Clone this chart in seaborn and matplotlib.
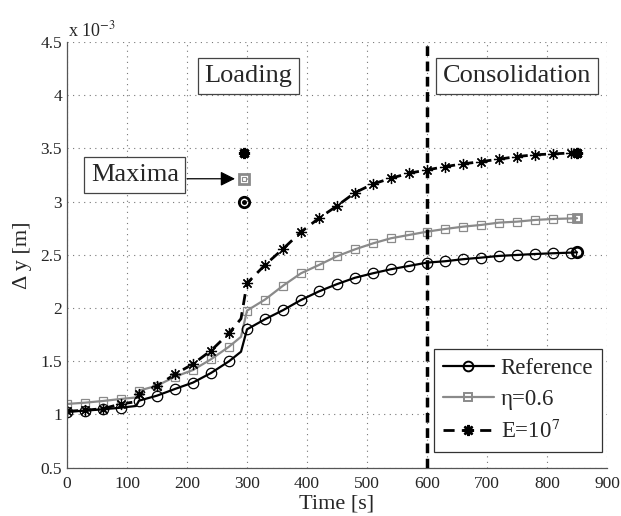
import numpy as np
import matplotlib
matplotlib.use("Agg")
import matplotlib.pyplot as plt
import seaborn as sns
from matplotlib.lines import Line2D

# time axis [s] (extra points at 115 and 290 are the kinks of the curves)
time = [0, 30, 60, 90, 115, 120, 150, 180, 210, 240, 270, 290, 300, 330, 360, 390, 420,
        450, 480, 510, 540, 570, 600, 630, 660, 690, 720, 750, 780, 810, 840, 850]

# displacement in units of 1e-3 m
reference = [1.026, 1.036, 1.049, 1.064, 1.08, 1.13, 1.177, 1.24, 1.30, 1.39, 1.50, 1.59,
             1.80, 1.895, 1.98, 2.076, 2.157, 2.225, 2.285, 2.327, 2.365, 2.396, 2.427,
             2.44, 2.459, 2.474, 2.49, 2.499, 2.508, 2.515, 2.521, 2.524]
eta_06 = [1.099, 1.111, 1.127, 1.146, 1.16, 1.224, 1.271, 1.355, 1.418, 1.519, 1.637, 1.73,
          1.976, 2.08, 2.21, 2.327, 2.405, 2.487, 2.552, 2.608, 2.656, 2.687, 2.718,
          2.743, 2.765, 2.781, 2.803, 2.812, 2.828, 2.837, 2.842, 2.844]
e_1e7 = [1.03, 1.04, 1.055, 1.099, 1.12, 1.19, 1.27, 1.378, 1.475, 1.60, 1.763, 1.90,
         2.233, 2.405, 2.556, 2.715, 2.845, 2.96, 3.085, 3.166, 3.22, 3.267, 3.298,
         3.329, 3.355, 3.376, 3.399, 3.424, 3.44, 3.449, 3.457, 3.46]

# maxima markers
max_time = 295
max_ref, max_eta, max_e = 2.994, 3.21, 3.455

x_ticks = [0, 100, 200, 300, 400, 500, 600, 700, 800, 900]
y_ticks = [0.5, 1, 1.5, 2, 2.5, 3, 3.5, 4, 4.5]

sns.set_style("white")
plt.rcParams["font.family"] = ["Liberation Serif", "DejaVu Serif"]
plt.rcParams["mathtext.fontset"] = "stix"

GRAY = "#8a8a8a"
star = (8, 2, 0)

fig = plt.figure(figsize=(6.21, 5.16), dpi=100)
ax = fig.add_axes([0.1079, 0.0936, 0.8696, 0.825])

mark_idx = [i for i, t in enumerate(time) if t % 30 == 0 or t == 850]
mt = [time[i] for i in mark_idx]

# lines
sns.lineplot(x=time, y=reference, ax=ax, color="k", lw=1.6, estimator=None, sort=False)
sns.lineplot(x=time, y=eta_06, ax=ax, color=GRAY, lw=1.6, estimator=None, sort=False)
sns.lineplot(x=time, y=e_1e7, ax=ax, color="k", lw=2.0, estimator=None, sort=False,
             linestyle=(0, (4, 2.6)))

# markers
ax.plot(mt, [reference[i] for i in mark_idx], ls="none", marker="o", ms=7.5,
        mfc="none", mec="k", mew=0.9)
ax.plot(mt, [eta_06[i] for i in mark_idx], ls="none", marker="s", ms=6,
        mfc="none", mec=GRAY, mew=0.9)
ax.plot(mt, [e_1e7[i] for i in mark_idx], ls="none", marker=star, ms=8,
        mec="k", mew=0.9)
# bold last markers
ax.plot([850], [reference[-1]], ls="none", marker="o", ms=7.5, mfc="none", mec="k", mew=2)
ax.plot([850], [eta_06[-1]], ls="none", marker="s", ms=6, mfc="none", mec=GRAY, mew=2)
ax.plot([850], [e_1e7[-1]], ls="none", marker=star, ms=8, mec="k", mew=2.2)

# maxima
ax.plot([max_time], [max_ref], marker="o", ms=7.5, mfc="none", mec="k", mew=2)
ax.plot([max_time], [max_ref], marker="o", ms=2.5, mfc="k", mec="k")
ax.plot([max_time], [max_eta], marker="s", ms=7, mfc="none", mec=GRAY, mew=2)
ax.plot([max_time], [max_eta], marker="s", ms=2.5, mfc="none", mec=GRAY, mew=0.8)
ax.plot([max_time], [max_e], marker=star, ms=8, mec="k", mew=2.2)

# loading/consolidation boundary
ax.axvline(600, color="k", lw=2.5, ls=(0, (2.8, 1.6)), zorder=5)

ax.set_xlim(0, 900)
ax.set_ylim(0.5, 4.5)
ax.set_xticks(x_ticks)
ax.set_yticks(y_ticks)
ax.set_yticklabels([f"{v:g}" for v in y_ticks])
ax.grid(True, ls=(0, (1, 4)), color="#777", lw=0.8)
ax.tick_params(direction="in", length=5, labelsize=12.5, color="#444", width=0.8)
ax.tick_params(axis="x", pad=6)
for s in ["top", "right"]:
    ax.spines[s].set_visible(False)
for s in ["left", "bottom"]:
    ax.spines[s].set_color("#555")
    ax.spines[s].set_linewidth(0.9)

ax.set_xlabel("Time [s]", fontsize=16)
ax.xaxis.set_label_coords(0.5, -0.062)
ax.set_ylabel("Δ y [m]", fontsize=16, labelpad=6)
fig.text(68 / 621, 1 - 36 / 516, "x 10$^{-3}$", fontsize=13)

box = dict(boxstyle="square,pad=0.25", fc="white", ec="#444", lw=0.9)
ax.text(302, 4.18, "Loading", ha="center", va="center", fontsize=19, bbox=box, zorder=6)
ax.text(750, 4.18, "Consolidation", ha="center", va="center", fontsize=19, bbox=box, zorder=6)
ax.text(113, 3.25, "Maxima", ha="center", va="center", fontsize=19, bbox=box, zorder=6)
ax.annotate("", xy=(280, 3.215), xytext=(200, 3.215),
            arrowprops=dict(arrowstyle="-|>", color="k", lw=0.9, mutation_scale=22,
                            shrinkA=0, shrinkB=0))

handles = [
    Line2D([], [], color="k", lw=1.6, marker="o", ms=7, mfc="none", mec="k", mew=1.4),
    Line2D([], [], color=GRAY, lw=1.6, marker="s", ms=6, mfc="none", mec=GRAY, mew=1.4),
    Line2D([], [], color="k", lw=2.0, ls=(0, (4, 2.6)), marker=star, ms=8, mec="k", mew=1.8),
]
leg = ax.legend(handles, ["Reference", "η=0.6", "E=10$^7$"], loc="lower right",
                bbox_to_anchor=(0.991, 0.037), fontsize=16.5, handlelength=2.2,
                labelspacing=0.42, handletextpad=0.3, borderpad=0.4, borderaxespad=0,
                fancybox=False, framealpha=1, edgecolor="#333")
leg.get_frame().set_linewidth(0.9)
leg.set_zorder(7)

fig.savefig("out.png", dpi=100)
